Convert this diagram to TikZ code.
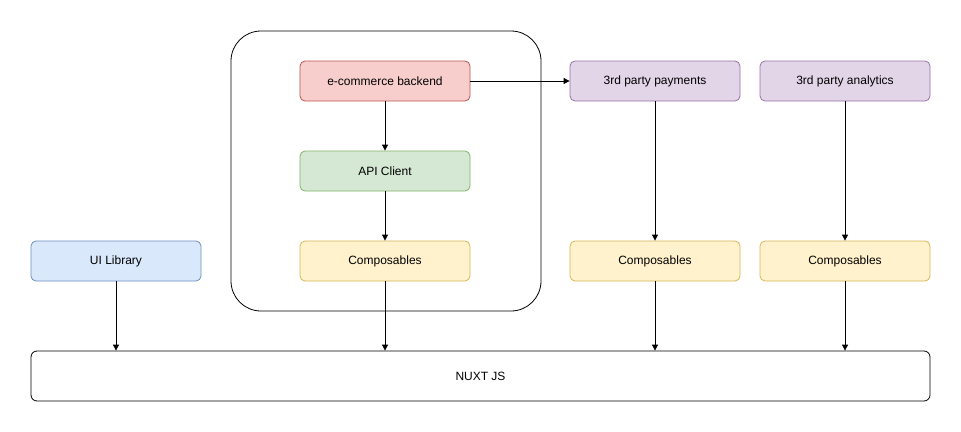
\documentclass[tikz,border=0pt]{standalone}
\usepackage{fontspec}
\setmainfont{Liberation Sans}
\usetikzlibrary{arrows.meta}

\definecolor{redfill}{HTML}{F8CECC}
\definecolor{redline}{HTML}{B85450}
\definecolor{greenfill}{HTML}{D5E8D4}
\definecolor{greenline}{HTML}{82B366}
\definecolor{yellowfill}{HTML}{FFF2CC}
\definecolor{yellowline}{HTML}{D6B656}
\definecolor{bluefill}{HTML}{DAE8FC}
\definecolor{blueline}{HTML}{6C8EBF}
\definecolor{purplefill}{HTML}{E1D5E7}
\definecolor{purpleline}{HTML}{9673A6}

\begin{document}
\begin{tikzpicture}[
    x=1pt, y=-1pt,
    every node/.style={font=\fontsize{12}{14}\selectfont},
    box/.style={draw, rounded corners=5pt, minimum width=170pt, minimum height=40pt, inner sep=0pt, line width=0.8pt},
    redbox/.style={box, fill=redfill, draw=redline},
    greenbox/.style={box, fill=greenfill, draw=greenline},
    yellowbox/.style={box, fill=yellowfill, draw=yellowline},
    bluebox/.style={box, fill=bluefill, draw=blueline},
    purplebox/.style={box, fill=purplefill, draw=purpleline},
    link/.style={-{Triangle[length=6pt, width=6pt]}, line width=0.8pt}
]
\useasboundingbox (0,0) rectangle (961,431);

% nodes
\node[redbox] (backend) at (385,81) {e-commerce backend};
\node[greenbox] (api) at (385,171) {API Client};
\node[yellowbox] (compA) at (385,261) {Composables};
\node[bluebox] (ui) at (116,261) {UI Library};
\node[purplebox] (pay) at (655,81) {3rd party payments};
\node[purplebox] (ana) at (845,81) {3rd party analytics};
\node[yellowbox] (compB) at (655,261) {Composables};
\node[yellowbox] (compC) at (845,261) {Composables};
\node[draw, rounded corners=6pt, minimum width=899pt, minimum height=50pt, inner sep=0pt, line width=0.8pt] (nuxt) at (480.5,376) {NUXT JS};

% connectors
\draw[link] (backend) -- (api);
\draw[link] (api) -- (compA);
\draw[link] (backend) -- (pay);
\draw[link] (pay) -- (compB);
\draw[link] (ana) -- (compC);
\draw[link] (ui.south) -- (ui.south |- nuxt.north);
\draw[link] (compA) -- (compA |- nuxt.north);
\draw[link] (compB) -- (compB |- nuxt.north);
\draw[link] (compC) -- (compC |- nuxt.north);

% backend group
\draw[rounded corners=30pt, line width=0.8pt] (231,31) rectangle (541,311);
\end{tikzpicture}
\end{document}
